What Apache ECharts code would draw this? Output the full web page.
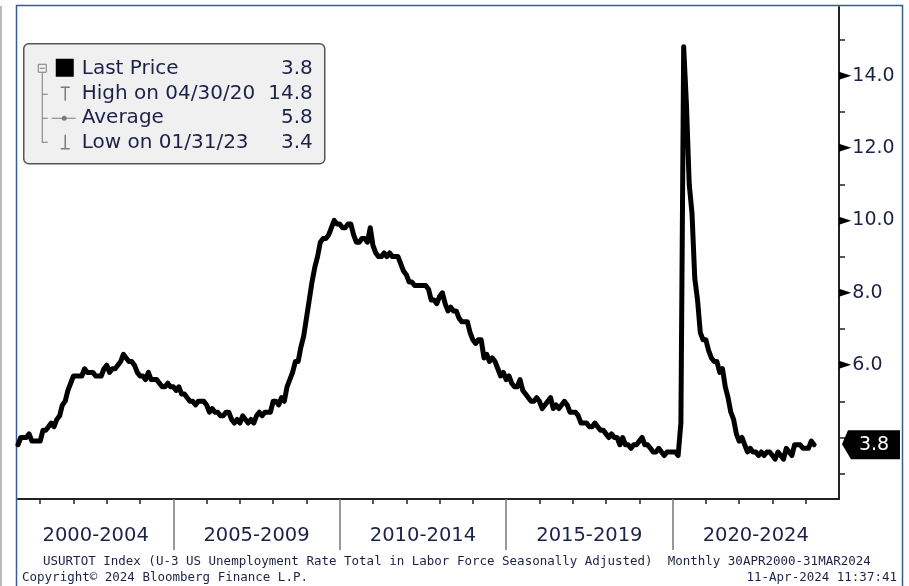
<!DOCTYPE html>
<html>
<head>
<meta charset="utf-8">
<title>USURTOT Index</title>
<script src="https://cdn.jsdelivr.net/npm/echarts@6/dist/echarts.min.js"></script>
<style>
  html, body { margin: 0; padding: 0; background: #fff; }
  #chart { width: 909px; height: 586px; }
</style>
</head>
<body>
<div id="chart"></div>
<script>
// U-3 unemployment rate, monthly, first point = Apr 2000 (plotted at month end)
const startYear = 2000;
const startMonth = 4;
const rates = [
  /* 2000 */ 3.8, 4.0, 4.0, 4.0, 4.1, 3.9, 3.9, 3.9, 3.9,
  /* 2001 */ 4.2, 4.2, 4.3, 4.4, 4.3, 4.5, 4.6, 4.9, 5.0, 5.3, 5.5, 5.7,
  /* 2002 */ 5.7, 5.7, 5.7, 5.9, 5.8, 5.8, 5.8, 5.7, 5.7, 5.7, 5.9, 6.0,
  /* 2003 */ 5.8, 5.9, 5.9, 6.0, 6.1, 6.3, 6.2, 6.1, 6.1, 6.0, 5.8, 5.7,
  /* 2004 */ 5.7, 5.6, 5.8, 5.6, 5.6, 5.6, 5.5, 5.4, 5.4, 5.5, 5.4, 5.4,
  /* 2005 */ 5.3, 5.4, 5.2, 5.2, 5.1, 5.0, 5.0, 4.9, 5.0, 5.0, 5.0, 4.9,
  /* 2006 */ 4.7, 4.8, 4.7, 4.7, 4.6, 4.6, 4.7, 4.7, 4.5, 4.4, 4.5, 4.4,
  /* 2007 */ 4.6, 4.5, 4.4, 4.5, 4.4, 4.6, 4.7, 4.6, 4.7, 4.7, 4.7, 5.0,
  /* 2008 */ 5.0, 4.9, 5.1, 5.0, 5.4, 5.6, 5.8, 6.1, 6.1, 6.5, 6.8, 7.3,
  /* 2009 */ 7.8, 8.3, 8.7, 9.0, 9.4, 9.5, 9.5, 9.6, 9.8, 10.0, 9.9, 9.9,
  /* 2010 */ 9.8, 9.8, 9.9, 9.9, 9.6, 9.4, 9.4, 9.5, 9.5, 9.4, 9.8, 9.3,
  /* 2011 */ 9.1, 9.0, 9.0, 9.1, 9.0, 9.1, 9.0, 9.0, 9.0, 8.8, 8.6, 8.5,
  /* 2012 */ 8.3, 8.3, 8.2, 8.2, 8.2, 8.2, 8.2, 8.1, 7.8, 7.8, 7.7, 7.9,
  /* 2013 */ 8.0, 7.7, 7.5, 7.6, 7.5, 7.5, 7.3, 7.2, 7.2, 7.2, 6.9, 6.7,
  /* 2014 */ 6.6, 6.7, 6.7, 6.2, 6.3, 6.1, 6.2, 6.1, 5.9, 5.7, 5.8, 5.6,
  /* 2015 */ 5.7, 5.5, 5.4, 5.4, 5.6, 5.3, 5.2, 5.1, 5.0, 5.0, 5.1, 5.0,
  /* 2016 */ 4.8, 4.9, 5.0, 5.1, 4.8, 4.9, 4.8, 4.9, 5.0, 4.9, 4.7, 4.7,
  /* 2017 */ 4.7, 4.6, 4.4, 4.4, 4.4, 4.3, 4.3, 4.4, 4.3, 4.2, 4.2, 4.1,
  /* 2018 */ 4.0, 4.1, 4.0, 4.0, 3.8, 4.0, 3.8, 3.8, 3.7, 3.8, 3.8, 3.9,
  /* 2019 */ 4.0, 3.8, 3.8, 3.7, 3.6, 3.6, 3.7, 3.6, 3.5, 3.6, 3.6, 3.6,
  /* 2020 */ 3.6, 3.5, 4.4, 14.8, 13.2, 11.0, 10.2, 8.4, 7.8, 6.9, 6.7, 6.7,
  /* 2021 */ 6.4, 6.2, 6.1, 6.1, 5.8, 5.9, 5.4, 5.1, 4.7, 4.5, 4.1, 3.9,
  /* 2022 */ 4.0, 3.8, 3.6, 3.7, 3.6, 3.6, 3.5, 3.6, 3.5, 3.6, 3.6, 3.5,
  /* 2023 */ 3.4, 3.6, 3.5, 3.4, 3.7, 3.6, 3.5, 3.8, 3.8, 3.8, 3.7, 3.7,
  /* 2024 */ 3.7, 3.9, 3.8
];

const periodLabels = ['2000-2004', '2005-2009', '2010-2014', '2015-2019', '2020-2024'];
const yearTicks = [2001, 2002, 2003, 2004, 2006, 2007, 2008, 2009, 2011, 2012, 2013, 2014,
  2016, 2017, 2018, 2019, 2021, 2022, 2023, 2024];
const periodBreaks = [2005, 2010, 2015, 2020];
const yLabels = [6, 8, 10, 12, 14];
const yTicks = [3, 4, 5, 6, 7, 8, 9, 10, 11, 12, 13, 14, 15];

const footerTitle = 'USURTOT Index (U-3 US Unemployment Rate Total in Labor Force Seasonally Adjusted)  Monthly 30APR2000-31MAR2024';
const footerCopy = 'Copyright\u00a9 2024 Bloomberg Finance L.P.';
const footerStamp = '11-Apr-2024 11:37:41';

// month-end position in decimal years
function monthEnd(i) {
  return startYear + (startMonth + i) / 12;
}
function monthEndDate(i) {
  const y = startYear + Math.floor((startMonth - 1 + i) / 12);
  const m = (startMonth - 1 + i) % 12 + 1;
  const d = new Date(y, m, 0).getDate();
  const p = (n) => String(n).padStart(2, '0');
  return p(m) + '/' + p(d) + '/' + p(y % 100);
}

const points = rates.map((v, i) => [monthEnd(i), v]);
const xMin = monthEnd(0);
const xMax = 2025;

// legend stats
const last = rates[rates.length - 1];
let hiIdx = 0, loIdx = 0;
rates.forEach((v, i) => {
  if (v > rates[hiIdx]) hiIdx = i;
  if (v < rates[loIdx]) loIdx = i;
});
const avg = rates.reduce((a, b) => a + b, 0) / rates.length;

const periodCenters = periodLabels.map((s) => {
  const [a, b] = s.split('-').map(Number);
  return (Math.max(a, xMin) + Math.min(b + 1, xMax)) / 2;
});

const txtColor = '#1c2148';
const font = 'DejaVu Sans';
const grey = '#7a7a7a';

const legendRows = [
  { name: 'Last Price', value: last.toFixed(1) },
  { name: 'High on ' + monthEndDate(hiIdx), value: rates[hiIdx].toFixed(1) },
  { name: 'Average', value: avg.toFixed(1) },
  { name: 'Low on ' + monthEndDate(loIdx), value: rates[loIdx].toFixed(1) }
];
const rowY = [25, 50, 74, 99];

const legendChildren = [
  { type: 'rect', shape: { x: 0, y: 0, width: 301, height: 120, r: 5 },
    style: { fill: '#f0f0f0', stroke: '#555', lineWidth: 1.5 } },
  // tree lines
  { type: 'rect', shape: { x: 14.5, y: 20.5, width: 8, height: 8 }, style: { fill: 'none', stroke: grey, lineWidth: 1 } },
  { type: 'line', shape: { x1: 16, y1: 24.5, x2: 21, y2: 24.5 }, style: { stroke: grey, lineWidth: 1 } },
  { type: 'line', shape: { x1: 18.5, y1: 29, x2: 18.5, y2: 99 }, style: { stroke: grey, lineWidth: 1 } },
  { type: 'line', shape: { x1: 18.5, y1: 50.5, x2: 24, y2: 50.5 }, style: { stroke: grey, lineWidth: 1 } },
  { type: 'line', shape: { x1: 18.5, y1: 74.5, x2: 24, y2: 74.5 }, style: { stroke: grey, lineWidth: 1 } },
  { type: 'line', shape: { x1: 18.5, y1: 98.5, x2: 24, y2: 98.5 }, style: { stroke: grey, lineWidth: 1 } },
  // last price swatch
  { type: 'rect', shape: { x: 32, y: 15, width: 18, height: 18 }, style: { fill: '#000' } },
  // high marker
  { type: 'line', shape: { x1: 37, y1: 43.5, x2: 46, y2: 43.5 }, style: { stroke: grey, lineWidth: 1.5 } },
  { type: 'line', shape: { x1: 41.5, y1: 43, x2: 41.5, y2: 57 }, style: { stroke: grey, lineWidth: 1.5 } },
  // average marker
  { type: 'line', shape: { x1: 28, y1: 74.5, x2: 52, y2: 74.5 }, style: { stroke: grey, lineWidth: 1 } },
  { type: 'circle', shape: { cx: 40.5, cy: 74.5, r: 2.5 }, style: { fill: grey } },
  // low marker
  { type: 'line', shape: { x1: 41.5, y1: 91, x2: 41.5, y2: 105 }, style: { stroke: grey, lineWidth: 1.5 } },
  { type: 'line', shape: { x1: 37, y1: 105, x2: 46, y2: 105 }, style: { stroke: grey, lineWidth: 1.5 } }
];
legendRows.forEach((r, i) => {
  legendChildren.push({ type: 'text', x: 58, y: rowY[i],
    style: { text: r.name, font: '20px "' + font + '"', fill: txtColor, verticalAlign: 'middle' } });
  legendChildren.push({ type: 'text', x: 289, y: rowY[i],
    style: { text: r.value, font: '20px "' + font + '"', fill: txtColor, align: 'right', verticalAlign: 'middle' } });
});

const chart = echarts.init(document.getElementById('chart'));

const option = {
  backgroundColor: '#fff',
  animation: false,
  grid: { left: 18, right: 70, top: 7, bottom: 87 },
  xAxis: [
    {
      type: 'value',
      min: xMin,
      max: xMax,
      position: 'bottom',
      axisLine: { show: true, lineStyle: { color: '#222', width: 2 } },
      axisTick: { show: true, customValues: yearTicks, length: 5, lineStyle: { color: '#222', width: 1.5 } },
      axisLabel: {
        customValues: periodCenters,
        margin: 27,
        fontFamily: font,
        fontSize: 19.5,
        color: txtColor,
        formatter: (v) => periodLabels[periodCenters.findIndex((c) => Math.abs(c - v) < 1e-6)] || ''
      },
      splitLine: { show: false }
    },
    {
      type: 'value',
      min: xMin,
      max: xMax,
      position: 'bottom',
      axisLine: { show: false },
      axisTick: { show: true, customValues: periodBreaks, length: 51, lineStyle: { color: '#777', width: 1.5 } },
      axisLabel: { show: false },
      splitLine: { show: false }
    }
  ],
  yAxis: {
    type: 'value',
    position: 'right',
    min: 2.3,
    max: 15.9,
    axisLine: { show: true, lineStyle: { color: '#222', width: 2 } },
    axisTick: { show: true, customValues: yTicks, length: 6, lineStyle: { color: '#222', width: 1.5 } },
    axisLabel: {
      customValues: yLabels,
      margin: 0,
      formatter: (v) => '{t|\u25BA}{v|' + v.toFixed(1) + '}',
      rich: {
        t: { fontFamily: font, fontSize: 16, color: '#000', padding: [0, 1, 0, 0] },
        v: { fontFamily: font, fontSize: 19, color: txtColor }
      }
    },
    splitLine: { show: false }
  },
  series: [
    {
      type: 'line',
      data: points,
      showSymbol: false,
      symbol: 'none',
      lineStyle: { color: '#000', width: 5, join: 'round', cap: 'round' },
      markPoint: {
        symbol: 'path://M0,14L6,0L58,0L58,29L9,29Z',
        symbolSize: [58, 29],
        symbolKeepAspect: false,
        symbolOffset: [32, 0],
        itemStyle: { color: '#000' },
        label: {
          show: true,
          position: 'inside',
          offset: [3, 0],
          color: '#fff',
          fontFamily: font,
          fontSize: 19,
          formatter: () => last.toFixed(1)
        },
        data: [{ coord: [xMax, last] }]
      }
    }
  ],
  graphic: [
    { type: 'line', shape: { x1: 1, y1: 6, x2: 1, y2: 586 }, style: { stroke: '#b8b8b8', lineWidth: 2 } },
    { type: 'rect', shape: { x: 16.5, y: 5.5, width: 886, height: 600 },
      style: { fill: 'none', stroke: '#3a5a96', lineWidth: 1.5 } },
    { type: 'group', left: 23, top: 43, children: legendChildren },
    { type: 'text', left: 43, top: 555,
      style: { text: footerTitle, font: '12.5px "DejaVu Sans Mono"', fill: txtColor } },
    { type: 'text', left: 22, top: 571,
      style: { text: footerCopy, font: '12.5px "DejaVu Sans Mono"', fill: txtColor } },
    { type: 'text', right: 12, top: 571,
      style: { text: footerStamp, font: '12.5px "DejaVu Sans Mono"', fill: txtColor } }
  ]
};

chart.setOption(option);
</script>
</body>
</html>
